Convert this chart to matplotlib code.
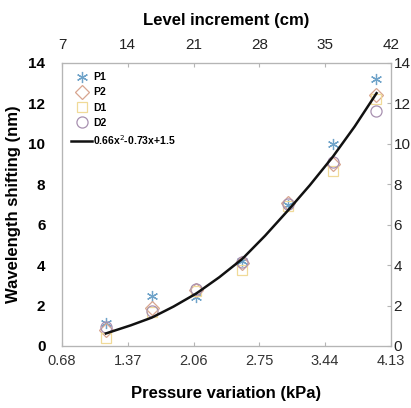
import matplotlib
matplotlib.use("Agg")
import matplotlib.pyplot as plt

plt.rcParams['font.family'] = ['Liberation Sans', 'DejaVu Sans']

pressure = [1.14, 1.62, 2.09, 2.57, 3.05, 3.52, 3.97]
p1 = [1.14, 2.47, 2.43, 4.20, 6.98, 10.0, 13.2]
p2 = [0.80, 1.88, 2.77, 4.10, 7.08, 9.00, 12.4]
d1 = [0.40, 1.70, 2.72, 3.76, 6.93, 8.66, 12.2]
d2 = [0.94, 1.73, 2.82, 4.16, 7.00, 9.10, 11.6]
fit_x = [1.14, 1.40, 1.62, 1.85, 2.09, 2.33, 2.57, 2.81, 3.05, 3.28, 3.52, 3.75, 3.98]
fit_y = [0.62, 1.02, 1.40, 1.95, 2.60, 3.40, 4.30, 5.45, 6.70, 7.95, 9.35, 10.85, 12.5]
fit_label = "0.66x$^{2}$-0.73x+1.5"

bottom_ticks = [0.68, 1.37, 2.06, 2.75, 3.44, 4.13]
top_ticks = [7, 14, 21, 28, 35, 42]
y_ticks = [0, 2, 4, 6, 8, 10, 12, 14]

fig = plt.figure(figsize=(4.11, 4.08), dpi=100)
ax = fig.add_axes([0.151, 0.152, 0.8, 0.694])
spine_c = '#b5b5b5'

ax.plot(pressure, p1, linestyle='none', marker=(6, 2, 0), markersize=8,
        markeredgecolor='#6fa3c9', markeredgewidth=0.9, label='P1')
ax.plot(pressure, p2, linestyle='none', marker='D', markersize=7,
        markerfacecolor='none', markeredgecolor='#d8a58f', markeredgewidth=0.9, label='P2')
ax.plot(pressure, d1, linestyle='none', marker='s', markersize=7,
        markerfacecolor='none', markeredgecolor='#f0da98', markeredgewidth=0.9, label='D1')
ax.plot(pressure, d2, linestyle='none', marker='o', markersize=8,
        markerfacecolor='none', markeredgecolor='#a890b0', markeredgewidth=0.9, label='D2')
ax.plot(fit_x, fit_y, color='#111111', linewidth=1.8, label=fit_label)

ax.set_xlim(bottom_ticks[0], bottom_ticks[-1])
ax.set_ylim(0, 14)
ax.set_xticks(bottom_ticks)
ax.set_xticklabels([f"{t:.2f}" for t in bottom_ticks], fontsize=10.5, color='#333333')
ax.set_yticks(y_ticks)
ax.set_yticklabels([str(t) for t in y_ticks], fontsize=11, fontweight='bold')
ax.tick_params(axis='y', length=0, pad=12)
ax.tick_params(axis='x', direction='in', length=3, color=spine_c, pad=6)
for s in ax.spines.values():
    s.set_color(spine_c)

ax.set_xlabel("Pressure variation (kPa)", fontsize=12, fontweight='bold', labelpad=13)
ax.set_ylabel("Wavelength shifting (nm)", fontsize=12, fontweight='bold', labelpad=5)

axr = ax.twinx()
axr.set_ylim(0, 14)
axr.set_yticks(y_ticks)
axr.set_yticklabels([str(t) for t in y_ticks], fontsize=11, color='#222222')
axr.tick_params(axis='y', direction='in', length=3, color=spine_c, pad=2)
for s in axr.spines.values():
    s.set_color(spine_c)

axt = ax.twiny()
axt.set_xlim(top_ticks[0], top_ticks[-1])
axt.set_xticks(top_ticks)
axt.set_xticklabels([str(t) for t in top_ticks], fontsize=11, color='#222222')
axt.tick_params(axis='x', direction='in', length=3, color=spine_c, pad=8)
axt.set_xlabel("Level increment (cm)", fontsize=12, fontweight='bold', labelpad=9)
for s in axt.spines.values():
    s.set_color(spine_c)

leg = ax.legend(loc='upper left', frameon=False, prop={'weight': 'bold', 'size': 7.5},
                handlelength=2.0, labelspacing=0.5, borderaxespad=0.5, handletextpad=0.1)

fig.savefig("out.png", dpi=100)
